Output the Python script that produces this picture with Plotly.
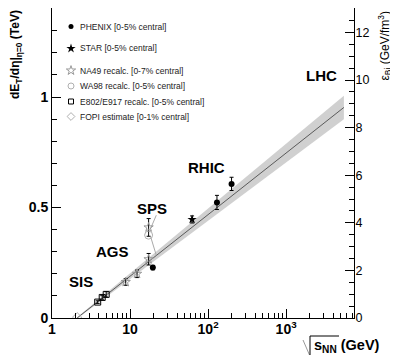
import plotly.graph_objects as go

# ---------------- data ----------------
phenix_x = [19.6, 130, 200]
phenix_y = [0.228, 0.523, 0.607]
phenix_err = [0.010, 0.032, 0.030]

star_x = [62.4]
star_y = [0.446]
star_err = [0.016]

na49_x = [8.8, 12.3, 17.3]
na49_y = [0.163, 0.200, 0.266]
na49_err = [0.015, 0.017, 0.026]

na49_orig_x = [17.3]
na49_orig_y = [0.410]
na49_orig_err = [0.040]

wa98_x = [17.3]
wa98_y = [0.375]

e802_x = [3.85, 4.4, 4.95]
e802_y = [0.072, 0.093, 0.107]
e802_err = [0.006, 0.008, 0.012]

fopi_x = [2.1]
fopi_y = [0.004]

fit_x = [2.1, 5500]
fit_y = [0.0, 0.953]
fit_lo = [-0.003, 0.900]
fit_hi = [0.003, 1.006]

sps_line1_x = [21.7, 18.4]
sps_line1_y = [0.465, 0.406]
sps_line2_x = [18.4, 21.7]
sps_line2_y = [0.367, 0.284]

x_tickvals = [1, 10, 100, 1000]
x_ticktext = ["<b>1</b>", "<b>10</b>", "<b>10<sup>2</sup></b>", "<b>10<sup>3</sup></b>"]
y_tickvals = [0, 0.5, 1]
y_ticktext = ["<b>0</b>", "<b>0.5</b>", "<b>1</b>"]
y2_tickvals = [0, 2, 4, 6, 8, 10, 12]

legend_labels = ["PHENIX [0-5% central]", "STAR [0-5% central]", "NA49 recalc. [0-7% central]",
                 "WA98 recalc. [0-5% central]", "E802/E917 recalc. [0-5% central]",
                 "FOPI estimate [0-1% central]"]

# ---------------- layout geometry ----------------
# the page body has an 8px default margin, so the figure is laid out 8px smaller
OFF = 8
W, H = 390, 356
L, R, T, B = 44, 346, 0, 310
FONT = "Liberation Sans, Arial, Helvetica, sans-serif"


def px(xp):
    """page x pixel -> paper fraction"""
    return (xp - OFF - L) / (R - L)


def py(yp):
    """page y pixel -> paper fraction"""
    return (B - (yp - OFF)) / (B - T)


fig = go.Figure()

# band
fig.add_trace(go.Scatter(x=fit_x + fit_x[::-1], y=fit_hi + fit_lo[::-1], fill="toself",
                         fillcolor="#d0d0d0", line=dict(width=0), mode="lines",
                         hoverinfo="skip", showlegend=False))
fig.add_trace(go.Scatter(x=fit_x, y=fit_y, mode="lines", line=dict(color="#5a5a5a", width=1),
                         showlegend=False))

# pointer lines
for lx, ly in [(sps_line1_x, sps_line1_y), (sps_line2_x, sps_line2_y)]:
    fig.add_trace(go.Scatter(x=lx, y=ly, mode="lines", line=dict(color="#aaaaaa", width=1),
                             showlegend=False))

gray = "#9a9a9a"
lgray = "#b0b0b0"

fig.add_trace(go.Scatter(x=fopi_x, y=fopi_y, mode="markers",
                         marker=dict(symbol="diamond-open", size=7, color=lgray, line=dict(width=1)),
                         showlegend=False))
fig.add_trace(go.Scatter(x=e802_x, y=e802_y, mode="markers",
                         error_y=dict(array=e802_err, color="black", thickness=1, width=2),
                         marker=dict(symbol="square-open", size=6, color="black", line=dict(width=1)),
                         showlegend=False))
fig.add_trace(go.Scatter(x=na49_x, y=na49_y, mode="markers",
                         error_y=dict(array=na49_err, color="black", thickness=1, width=2),
                         marker=dict(symbol="star-open", size=7, color=gray, line=dict(width=1)),
                         showlegend=False))
fig.add_trace(go.Scatter(x=na49_orig_x, y=na49_orig_y, mode="markers",
                         error_y=dict(array=na49_orig_err, color="black", thickness=1, width=2),
                         marker=dict(symbol="star-open", size=7, color=gray, line=dict(width=1)),
                         showlegend=False))
fig.add_trace(go.Scatter(x=wa98_x, y=wa98_y, mode="markers",
                         marker=dict(symbol="circle-open", size=8, color=lgray, line=dict(width=1)),
                         showlegend=False))
fig.add_trace(go.Scatter(x=star_x, y=star_y, mode="markers",
                         error_y=dict(array=star_err, color="black", thickness=1, width=2),
                         marker=dict(symbol="star", size=7, color="black"),
                         showlegend=False))
fig.add_trace(go.Scatter(x=phenix_x, y=phenix_y, mode="markers",
                         error_y=dict(array=phenix_err, color="black", thickness=1, width=2),
                         marker=dict(symbol="circle", size=6, color="black"),
                         showlegend=False))

# secondary axis (epsilon) - invisible trace to activate it
fig.add_trace(go.Scatter(x=[None], y=[None], yaxis="y2", showlegend=False))

# manual legend on pixel-overlay axes (page pixel coordinates)
leg_rows = [26.5, 48.5, 70.5, 86, 101.5, 116.5]
leg_marker_x = 71
leg_styles = [
    dict(symbol="circle", size=5, color="black"),
    dict(symbol="star", size=7, color="black"),
    dict(symbol="star-open", size=7, color=gray, line=dict(width=1)),
    dict(symbol="circle-open", size=6, color=lgray, line=dict(width=1)),
    dict(symbol="square-open", size=5, color="black", line=dict(width=1)),
    dict(symbol="diamond-open", size=6, color=lgray, line=dict(width=1)),
]
for yy, st in zip(leg_rows, leg_styles):
    fig.add_trace(go.Scatter(x=[leg_marker_x], y=[yy], xaxis="x3", yaxis="y3", mode="markers",
                             marker=st, showlegend=False, hoverinfo="skip"))

annotations = []
for yy, lab in zip(leg_rows, legend_labels):
    annotations.append(dict(x=px(78), y=py(yy), xref="paper", yref="paper", text=lab,
                            showarrow=False, xanchor="left", yanchor="middle",
                            font=dict(family=FONT, size=8.5, color="#222222")))

for txt, cx, cy in [("SIS", 80.5, 281.7), ("AGS", 112.5, 251), ("SPS", 152, 208),
                    ("RHIC", 206.5, 167.5), ("LHC", 321.5, 75)]:
    annotations.append(dict(x=px(cx), y=py(cy), xref="paper", yref="paper", text="<b>%s</b>" % txt,
                            showarrow=False, xanchor="center", yanchor="middle",
                            font=dict(family=FONT, size=15, color="black")))

# axis titles
annotations.append(dict(x=px(16), y=py(8.5), xref="paper", yref="paper",
                        text="<b>dE<sub>T</sub>/dη|<sub>η=0</sub> (TeV)</b>", textangle=-90,
                        showarrow=False, xanchor="center", yanchor="top",
                        font=dict(family=FONT, size=12, color="black")))
annotations.append(dict(x=px(385), y=py(8.5), xref="paper", yref="paper",
                        text="ε<sub>Bj</sub> (GeV/fm<sup>3</sup>)", textangle=-90,
                        showarrow=False, xanchor="center", yanchor="top",
                        font=dict(family=FONT, size=12, color="black")))
annotations.append(dict(x=px(312), y=py(346), xref="paper", yref="paper",
                        text="<b>s<sub>NN</sub> (GeV)</b>",
                        showarrow=False, xanchor="left", yanchor="middle",
                        font=dict(family=FONT, size=14.5, color="black")))

shapes = [
    dict(type="line", xref="paper", yref="paper", x0=px(303), y0=py(340), x1=px(309.5), y1=py(355),
         line=dict(color="#999999", width=1)),
    dict(type="line", xref="paper", yref="paper", x0=px(310), y0=py(336), x1=px(310), y1=py(355),
         line=dict(color="black", width=1)),
    dict(type="line", xref="paper", yref="paper", x0=px(310), y0=py(336), x1=px(339), y1=py(336),
         line=dict(color="black", width=1)),
]

tick_font_b = dict(family=FONT, size=14, color="black")

fig.update_layout(
    width=W, height=H,
    margin=dict(l=L, r=W - R, t=T, b=H - B, pad=0),
    paper_bgcolor="white", plot_bgcolor="white",
    showlegend=False,
    annotations=annotations,
    shapes=shapes,
    xaxis=dict(type="log", range=[0, 3.87], tickvals=x_tickvals, ticktext=x_ticktext,
               ticks="inside", ticklen=9, tickcolor="black", tickwidth=1,
               minor=dict(ticks="inside", ticklen=5, dtick="D1", tickcolor="black", showgrid=False),
               showline=True, linecolor="black", linewidth=1, mirror=True,
               showgrid=False, zeroline=False, tickfont=tick_font_b, ticklabelstandoff=-2),
    yaxis=dict(range=[0, 1.403], tickvals=y_tickvals, ticktext=y_ticktext,
               ticks="inside", ticklen=9, tickcolor="black", tickwidth=1,
               minor=dict(ticks="inside", ticklen=5, dtick=0.1, tickcolor="black", showgrid=False),
               showline=True, linecolor="black", linewidth=1,
               showgrid=False, zeroline=False, tickfont=tick_font_b),
    yaxis2=dict(range=[0, 13.03], overlaying="y", side="right", tickvals=y2_tickvals,
                ticks="inside", ticklen=9, tickcolor="black", tickwidth=1,
                minor=dict(ticks="inside", ticklen=5, dtick=0.5, tickcolor="black", showgrid=False),
                showline=True, linecolor="black", linewidth=1,
                showgrid=False, zeroline=False, tickfont=dict(family=FONT, size=12.5, color="black"),
                ticklabelstandoff=-2),
    xaxis3=dict(overlaying="x", range=[L + OFF, R + OFF], visible=False, showgrid=False),
    yaxis3=dict(overlaying="y", range=[B + OFF, T + OFF], visible=False, showgrid=False),
)

fig.write_html("out.html")
